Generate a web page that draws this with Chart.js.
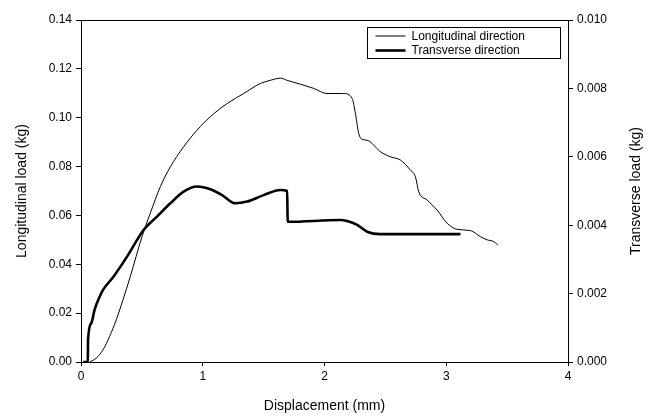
<!DOCTYPE html>
<html>
<head>
<meta charset="utf-8">
<script src="https://cdn.jsdelivr.net/npm/chart.js@4/dist/chart.umd.min.js"></script>
<style>
html,body{margin:0;padding:0;background:#fff;}
#wrap{width:653px;height:419px;position:relative;}
</style>
</head>
<body>
<div id="wrap"><canvas id="c" width="653" height="419"></canvas></div>
<script>
// Longitudinal direction (left axis, kg)
const dispL = [0.071,0.126,0.181,0.235,0.290,0.345,0.405,0.501,0.569,0.652,0.734,0.843,0.953,1.062,1.200,1.336,1.473,1.555,1.638,1.693,1.802,1.911,2.021,2.158,2.227,2.254,2.281,2.309,2.350,2.459,2.541,2.623,2.705,2.747,2.774,2.843,2.925,3.007,3.090,3.199,3.281,3.336,3.390,3.423];
const loadL = [0.0000,0.0016,0.0050,0.0105,0.0173,0.0255,0.0350,0.0513,0.0609,0.0718,0.0799,0.0881,0.0949,0.1004,0.1058,0.1099,0.1140,0.1153,0.1162,0.1153,0.1137,0.1120,0.1099,0.1099,0.1079,0.1017,0.0936,0.0911,0.0908,0.0861,0.0840,0.0827,0.0786,0.0758,0.0697,0.0663,0.0622,0.0568,0.0543,0.0538,0.0513,0.0500,0.0493,0.0479];
// Transverse direction (right axis, kg)
const dispT = [0.019,0.056,0.057,0.058,0.085,0.112,0.153,0.181,0.268,0.378,0.514,0.624,0.734,0.843,0.953,1.062,1.159,1.268,1.364,1.500,1.638,1.693,1.698,2.131,2.186,2.268,2.350,2.459,3.117];
const loadT = [0.00000,0.00000,0.00036,0.00065,0.00114,0.00153,0.00191,0.00211,0.00250,0.00308,0.00386,0.00425,0.00464,0.00498,0.00513,0.00505,0.00488,0.00464,0.00469,0.00488,0.00503,0.00500,0.00410,0.00415,0.00412,0.00401,0.00381,0.00374,0.00374];
const seriesNames = ['Longitudinal direction','Transverse direction'];
const xTitle = 'Displacement (mm)';
const yTitle = 'Longitudinal load (kg)';
const y2Title = 'Transverse load (kg)';

const FONT = '"Liberation Sans", Arial, sans-serif';

const frame = {
  id:'frame',
  afterDraw(chart){
    const ctx = chart.ctx, a = chart.chartArea;
    ctx.save();
    ctx.strokeStyle = '#000'; ctx.lineWidth = 1;
    ctx.beginPath(); ctx.moveTo(a.left, a.top+0.5); ctx.lineTo(a.right, a.top+0.5); ctx.stroke();
    // legend box
    const bx = a.right - 200.5, by = a.top + 7.5, bw = 193, bh = 31;
    ctx.strokeRect(bx, by, bw, bh);
    ctx.font = '12px ' + FONT; ctx.fillStyle = '#000'; ctx.textBaseline = 'middle'; ctx.textAlign='left';
    chart.data.datasets.forEach((ds, i) => {
      const yy = by + 8.5 + i*14.5;
      ctx.lineWidth = ds.borderWidth; ctx.strokeStyle = ds.borderColor;
      ctx.beginPath(); ctx.moveTo(bx+8, yy); ctx.lineTo(bx+38, yy); ctx.stroke();
      ctx.fillText(ds.label, bx+44, yy+0.5);
    });
    // vertical axis titles (both read bottom-to-top)
    const cy = (a.top + a.bottom) / 2;
    ctx.font = '14px ' + FONT; ctx.textAlign = 'center'; ctx.textBaseline = 'middle';
    [[22, yTitle],[636, y2Title]].forEach(([cx, t]) => {
      ctx.save(); ctx.translate(cx, cy); ctx.rotate(-Math.PI/2); ctx.fillText(t, 0, 0); ctx.restore();
    });
    ctx.restore();
  }
};

new Chart(document.getElementById('c'), {
  type:'line',
  data:{
    datasets:[
      {label:seriesNames[0], data:dispL.map((x,i)=>({x, y:loadL[i]})), yAxisID:'y', borderColor:'#000', borderWidth:1, pointRadius:0, cubicInterpolationMode:'monotone', fill:false},
      {label:seriesNames[1], data:dispT.map((x,i)=>({x, y:loadT[i]})), yAxisID:'y2', borderColor:'#000', borderWidth:2.6, pointRadius:0, cubicInterpolationMode:'monotone', fill:false}
    ]
  },
  options:{
    responsive:false, animation:false, devicePixelRatio:1,
    layout:{padding:{top:20, left:0, right:0, bottom:0}},
    plugins:{legend:{display:false}, tooltip:{enabled:false}},
    scales:{
      x:{type:'linear', min:0, max:4,
        ticks:{stepSize:1, color:'#000', font:{family:FONT, size:12}, padding:3, maxRotation:0},
        grid:{drawOnChartArea:false, drawTicks:true, tickLength:4, color:'#000'},
        border:{color:'#000', width:1},
        title:{display:true, text:xTitle, color:'#000', font:{family:FONT, size:14}, padding:{top:12}},
        afterFit(s){ s.height = 57; }
      },
      y:{type:'linear', position:'left', min:0, max:0.14,
        ticks:{stepSize:0.02, color:'#000', font:{family:FONT, size:12}, padding:4, callback:v=>v.toFixed(2)},
        grid:{drawOnChartArea:false, drawTicks:true, tickLength:5, color:'#000'},
        border:{color:'#000', width:1},
        afterFit(s){ s.width = 81; }
      },
      y2:{type:'linear', position:'right', min:0, max:0.01,
        ticks:{stepSize:0.002, color:'#000', font:{family:FONT, size:12}, padding:4, callback:v=>v.toFixed(3)},
        grid:{drawOnChartArea:false, drawTicks:true, tickLength:5, color:'#000'},
        border:{color:'#000', width:1},
        afterFit(s){ s.width = 85; }
      }
    }
  },
  plugins:[frame]
});
</script>
</body>
</html>
